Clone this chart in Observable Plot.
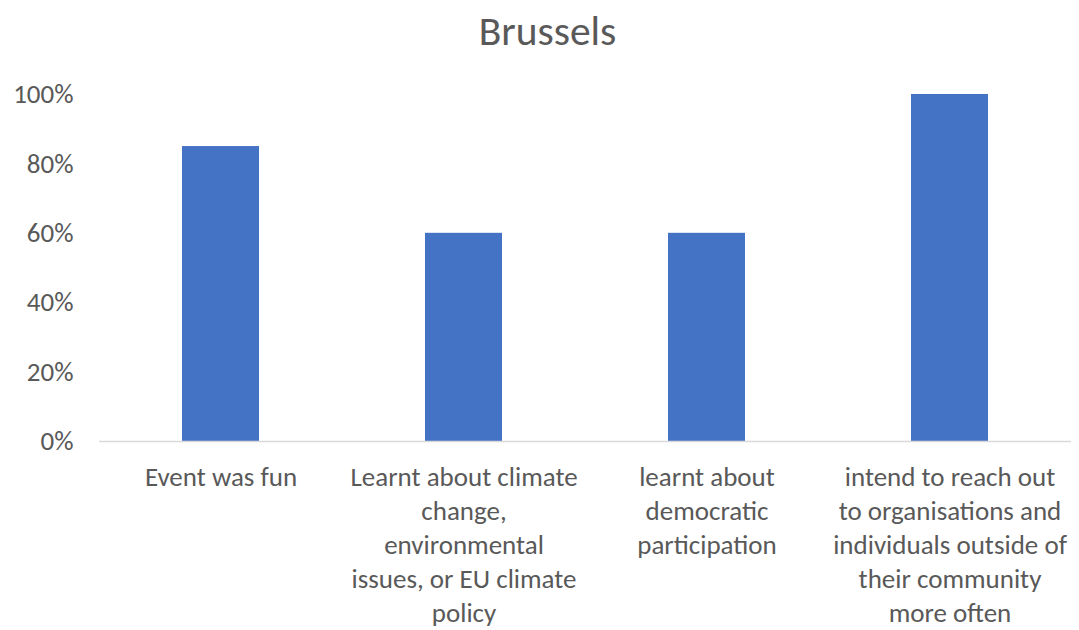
<!DOCTYPE html>
<html>
<head>
<meta charset="utf-8">
<script src="https://cdn.jsdelivr.net/npm/d3@7"></script>
<script src="https://cdn.jsdelivr.net/npm/@observablehq/plot@0.6"></script>
<style>
  html, body { margin: 0; padding: 0; background: #fff; }
  #title { width: 1079px; height: 60px; line-height: 62px; text-align: center; margin-left: 8px;
           font-family: Carlito, Lato, sans-serif; font-size: 41.5px; color: #595959; }
</style>
</head>
<body>
<div id="title">Brussels</div>
<div id="chart"></div>
<script>
const categories = [
  "Event was fun",
  "Learnt about climate change, environmental issues, or EU climate policy",
  "learnt about democratic participation",
  "intend to reach out to organisations and individuals outside of their community more often"
];
const labelLines = [
  "Event was fun",
  "Learnt about climate\nchange,\nenvironmental\nissues, or EU climate\npolicy",
  "learnt about\ndemocratic\nparticipation",
  "intend to reach out\nto organisations and\nindividuals outside of\ntheir community\nmore often"
];
const values = [0.85, 0.60, 0.60, 1.00];
const yTicks = [0, 0.2, 0.4, 0.6, 0.8, 1.0];

const data = categories.map((c, i) => ({category: c, value: values[i], label: labelLines[i]}));

const chart = Plot.plot({
  width: 1079,
  height: 570,
  marginTop: 34,
  marginBottom: 189,
  marginLeft: 99,
  marginRight: 8,
  style: {fontFamily: "Carlito, Lato, sans-serif", color: "#595959", background: "#fff"},
  x: {domain: categories, paddingInner: 0.683, paddingOuter: 0.3415, axis: null},
  y: {domain: [0, 1], ticks: yTicks, tickFormat: d3.format(".0%"), label: null},
  marks: [
    Plot.axisY({ticks: yTicks, tickFormat: d3.format(".0%"), tickSize: 0, tickPadding: 26, fontSize: 27, label: null, fill: "#595959"}),
    Plot.barY(data, {x: "category", y: "value", fill: "#4472C4"}),
    Plot.ruleY([0], {stroke: "#d9d9d9", strokeWidth: 1.5}),
    Plot.text(data, {x: "category", text: "label", frameAnchor: "bottom", lineAnchor: "top", dy: 20, fontSize: 27, lineHeight: 1.262, fill: "#595959"})
  ]
});
document.getElementById("chart").appendChild(chart);
</script>
</body>
</html>
